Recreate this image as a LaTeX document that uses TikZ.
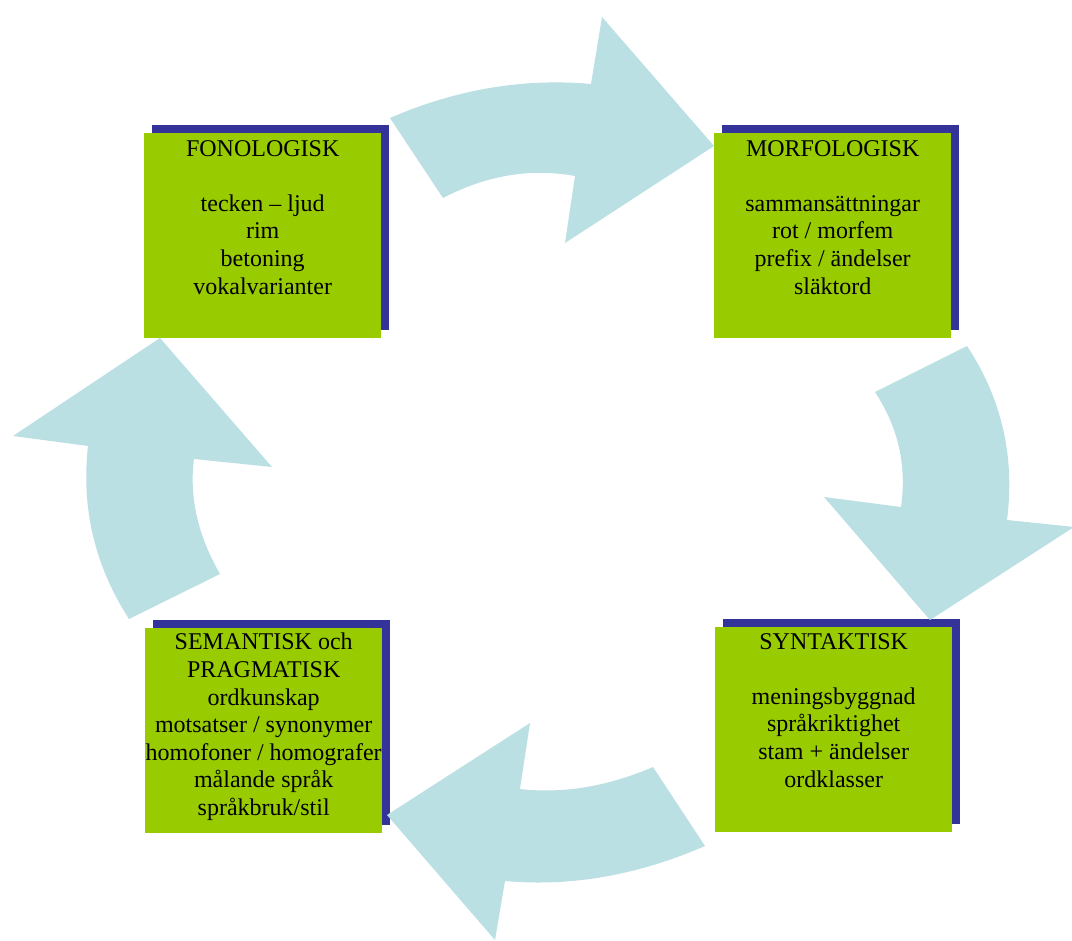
\documentclass[tikz,border=0pt]{standalone}
\usepackage{fontspec}
\setmainfont{Liberation Serif}
\usetikzlibrary{calc}
\definecolor{boxgreen}{HTML}{99CC00}
\definecolor{shadowblue}{HTML}{333399}
\definecolor{arrowcyan}{HTML}{BBE0E3}
\begin{document}
\begin{tikzpicture}[x=1pt,y=-1pt,
  shadowbox/.style={fill=shadowblue, draw=none, minimum width=237pt, minimum height=205pt, inner sep=0pt, anchor=north west},
  greenbox/.style={fill=boxgreen, draw=none, minimum width=237pt, minimum height=205pt, inner sep=0pt, anchor=north west},
  boxtext/.style={anchor=north, align=center, inner sep=0pt, text=black, font=\fontsize{24}{27.6}\selectfont},
  bigarrow/.style={fill=arrowcyan, draw=none}]
\useasboundingbox[fill=white] (0,0) rectangle (1072,941);

% boxes
\node[shadowbox] (s1) at (152,125) {};
\node[greenbox] (b1) at (144,133) {};
\node[shadowbox] (s2) at (722,125) {};
\node[greenbox] (b2) at (714,133) {};
\node[shadowbox] (s3) at (153,620) {};
\node[greenbox] (b3) at (145,628) {};
\node[shadowbox] (s4) at (723,619) {};
\node[greenbox] (b4) at (715,627) {};

\node[boxtext] (t1) at ($(b1.north)+(0,7)$) {FONOLOGISK\\[27.6pt]tecken – ljud\\rim\\betoning\\vokalvarianter};
\node[boxtext] (t2) at ($(b2.north)+(0,7)$) {MORFOLOGISK\\[27.6pt]sammansättningar\\rot / morfem\\prefix / ändelser\\släktord};
\node[boxtext] (t3) at ($(b3.north)+(0,5)$) {SEMANTISK och\\PRAGMATISK\\ordkunskap\\motsatser / synonymer\\homofoner / homografer\\målande språk\\språkbruk/stil};
\node[boxtext] (t4) at ($(b4.north)+(0,6)$) {SYNTAKTISK\\[27.6pt]meningsbyggnad\\språkriktighet\\stam + ändelser\\ordklasser};

% curved block arrows
\fill[bigarrow] (390,118) .. controls (457,89) and (524,78) .. (591,84) -- (602,17) -- (714,146) -- (565,243) -- (575,176) .. controls (531,168) and (487,175) .. (443,198) -- cycle;
\fill[bigarrow] (875,392) -- (967,346) .. controls (1002,399) and (1015,457) .. (1007,520) -- (1074,527) -- (930,620) -- (824,497) -- (901,507) .. controls (907,465) and (898,427) .. (875,392) -- cycle;
\fill[bigarrow] (387,815) -- (530,723) -- (520,789) .. controls (564,794) and (609,786) .. (653,767) -- (705,846) .. controls (638,875) and (572,887) .. (505,881) -- (495,940) -- cycle;
\fill[bigarrow] (160,338) -- (272,467) -- (194,459) .. controls (189,497) and (198,536) .. (220,574) -- (129,619) .. controls (95,566) and (81,509) .. (88,446) -- (13,436) -- cycle;
\end{tikzpicture}
\end{document}
